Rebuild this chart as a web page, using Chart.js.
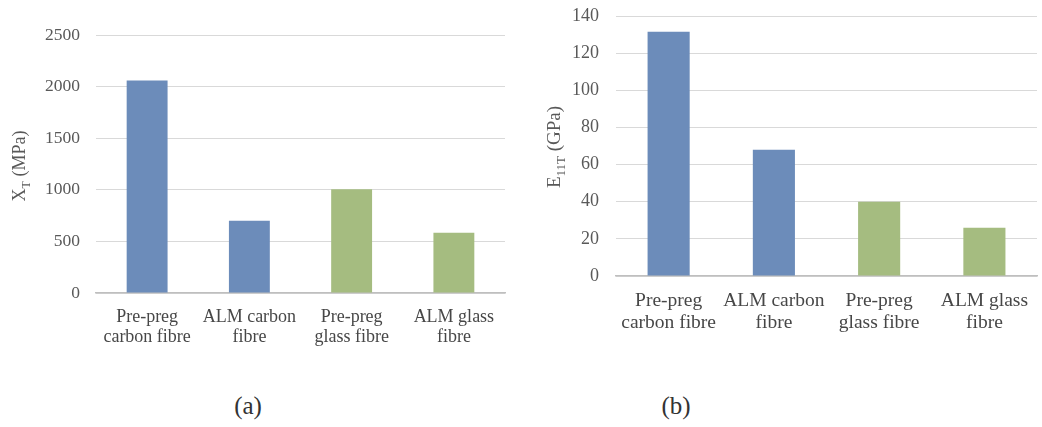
<!DOCTYPE html>
<html>
<head>
<meta charset="utf-8">
<script src="https://cdn.jsdelivr.net/npm/chart.js@4/dist/chart.umd.min.js"></script>
<style>
  body { margin: 0; background: #fff; width: 1042px; height: 427px; position: relative; overflow: hidden; font-family: 'Liberation Serif', serif; }
  #strengthChart { position: absolute; left: 0; top: 0; }
  #modulusChart { position: absolute; left: 520px; top: 0; }
  .cap { position: absolute; top: 392px; font-size: 25px; color: #333; transform: translateX(-50%); font-family: 'Liberation Serif', serif; }
</style>
</head>
<body>
<canvas id="strengthChart" width="520" height="360"></canvas>
<canvas id="modulusChart" width="522" height="360"></canvas>
<div class="cap" style="left:248px">(a)</div>
<div class="cap" style="left:676px">(b)</div>
<script>
// Materials compared
const categories = [
  ['Pre-preg', 'carbon fibre'],
  ['ALM carbon', 'fibre'],
  ['Pre-preg', 'glass fibre'],
  ['ALM glass', 'fibre']
];
// Longitudinal tensile strength X_T (MPa)
const tensileStrength = [2060, 700, 1005, 585];
// Longitudinal tensile modulus E_11T (GPa)
const tensileModulus = [131.5, 68, 40, 26];
// Value-axis ranges: min, max, step
const strengthAxis = [0, 2500, 500];
const modulusAxis = [0, 140, 20];
// Carbon fibre in blue, glass fibre in green
const fibreColours = ['#6c8cba', '#6c8cba', '#a5bc80', '#a5bc80'];

const SERIF = "'Liberation Serif', 'Times New Roman', serif";
Chart.defaults.font.family = SERIF;

// Rotated y-axis title with a subscript part
const axisTitle = {
  id: 'axisTitle',
  afterDraw(chart, args, opts) {
    const ctx = chart.ctx;
    const a = chart.chartArea;
    const y = (a.top + a.bottom) / 2 + (opts.dy || 0);
    const main = opts.size + 'px ' + SERIF;
    const sub = Math.round(opts.size * 0.68) + 'px ' + SERIF;
    ctx.save();
    ctx.translate(opts.x, y);
    ctx.rotate(-Math.PI / 2);
    ctx.fillStyle = '#595959';
    ctx.textBaseline = 'alphabetic';
    ctx.textAlign = 'left';
    let total = 0;
    const widths = opts.parts.map(p => {
      ctx.font = p.sub ? sub : main;
      const w = ctx.measureText(p.text).width;
      total += w;
      return w;
    });
    let cx = -total / 2;
    const base = opts.size * 0.34;
    opts.parts.forEach((p, i) => {
      ctx.font = p.sub ? sub : main;
      ctx.fillText(p.text, cx, base + (p.sub ? opts.size * 0.25 : 0));
      cx += widths[i];
    });
    ctx.restore();
  }
};

function makeChart(id, values, range, fontSize, opt) {
  return new Chart(document.getElementById(id), {
    type: 'bar',
    data: {
      labels: categories,
      datasets: [{
        data: values,
        backgroundColor: fibreColours,
        borderWidth: 0,
        barPercentage: 0.4,
        categoryPercentage: 1
      }]
    },
    options: {
      responsive: false,
      animation: false,
      devicePixelRatio: 1,
      layout: { padding: { top: opt.top, right: opt.right, left: 0, bottom: 0 } },
      plugins: {
        legend: { display: false },
        tooltip: { enabled: false },
        axisTitle: opt.title
      },
      scales: {
        x: {
          grid: { display: false, drawTicks: false },
          border: { display: true, color: '#bfbfbf', width: 1.5 },
          ticks: {
            color: '#474747',
            padding: opt.xPad,
            maxRotation: 0,
            autoSkip: false,
            font: { family: SERIF, size: fontSize, lineHeight: opt.lh }
          },
          afterFit(s) { s.height = opt.xHeight; }
        },
        y: {
          min: range[0],
          max: range[1],
          grid: { color: '#d9d9d9', lineWidth: 1, drawTicks: false },
          border: { display: false },
          ticks: {
            stepSize: range[2],
            color: '#595959',
            padding: opt.yPad,
            font: { family: SERIF, size: opt.yFont },
            callback: v => String(v)
          },
          afterFit(s) {
            s.width = 96;
            s.paddingTop = 0;
            s.paddingBottom = 0;
          }
        }
      }
    },
    plugins: [axisTitle]
  });
}

makeChart('strengthChart', tensileStrength, strengthAxis, 18, {
  top: 35, right: 15, xHeight: 67, xPad: 14, lh: 1.12, yPad: 16, yFont: 17.5,
  title: { x: 19, size: 18, dy: 2, parts: [{ text: 'X' }, { text: 'T', sub: true }, { text: ' (MPa)' }] }
});
makeChart('modulusChart', tensileModulus, modulusAxis, 19.5, {
  top: 16, right: 0, xHeight: 84, xPad: 14, lh: 1.13, yPad: 17, yFont: 18,
  title: { x: 34, size: 19, dy: 1, parts: [{ text: 'E' }, { text: '11T', sub: true }, { text: ' (GPa)' }] }
});
</script>
</body>
</html>
